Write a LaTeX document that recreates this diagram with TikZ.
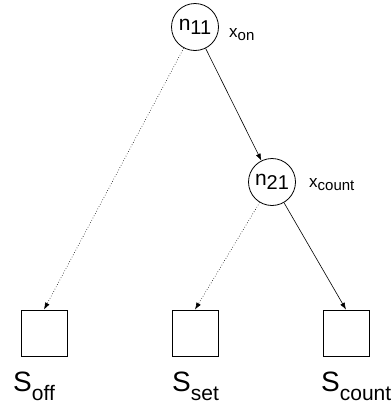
\documentclass[tikz,border=0pt]{standalone}
\usepackage{fontspec}
\setmainfont{Liberation Sans}
\usetikzlibrary{arrows.meta}
\tikzset{
  state/.style={circle,draw,line width=0.8pt,minimum size=47pt,inner sep=0pt},
  leaf/.style={rectangle,draw,line width=0.8pt,minimum size=46pt,inner sep=0pt},
  arr/.style={-{Latex[length=7pt,width=5pt]},line width=0.6pt},
  darr/.style={arr,dotted},
  lbl/.style={anchor=base west,inner sep=0pt}
}
\newcommand{\nlab}[2]{{\fontsize{21}{21}\selectfont #1}\raisebox{-4pt}{\fontsize{20}{20}\selectfont #2}}
\newcommand{\xlab}[2]{{\fontsize{17}{17}\selectfont #1}\raisebox{-3pt}{\fontsize{15}{15}\selectfont #2}}
\newcommand{\slab}[2]{{\fontsize{28}{28}\selectfont #1}\raisebox{-9pt}{\fontsize{21}{21}\selectfont #2}}
\begin{document}
\begin{tikzpicture}[x=1pt,y=-1pt]
\useasboundingbox (0,0) rectangle (391,407);
\node[state] (n11) at (195,27) {\nlab{n}{11}};
\node[state] (n21) at (272,182) {\nlab{n}{21}};
\node[lbl] (xon) at (229,37) {\xlab{x}{on}};
\node[lbl] (xcount) at (309,187) {\xlab{x}{count}};
\node[leaf] (b1) at (44,333) {};
\node[leaf] (b2) at (195,333) {};
\node[leaf] (b3) at (346,333) {};
\node[lbl] (s1) at (13,391) {\slab{S}{off}};
\node[lbl] (s2) at (172,391) {\slab{S}{set}};
\node[lbl] (s3) at (321,391) {\slab{S}{count}};
\draw[darr] (n11) -- (b1.north);
\draw[arr] (n11) -- (n21);
\draw[darr] (n21) -- (b2.north);
\draw[arr] (n21) -- (b3.north);
\end{tikzpicture}
\end{document}
